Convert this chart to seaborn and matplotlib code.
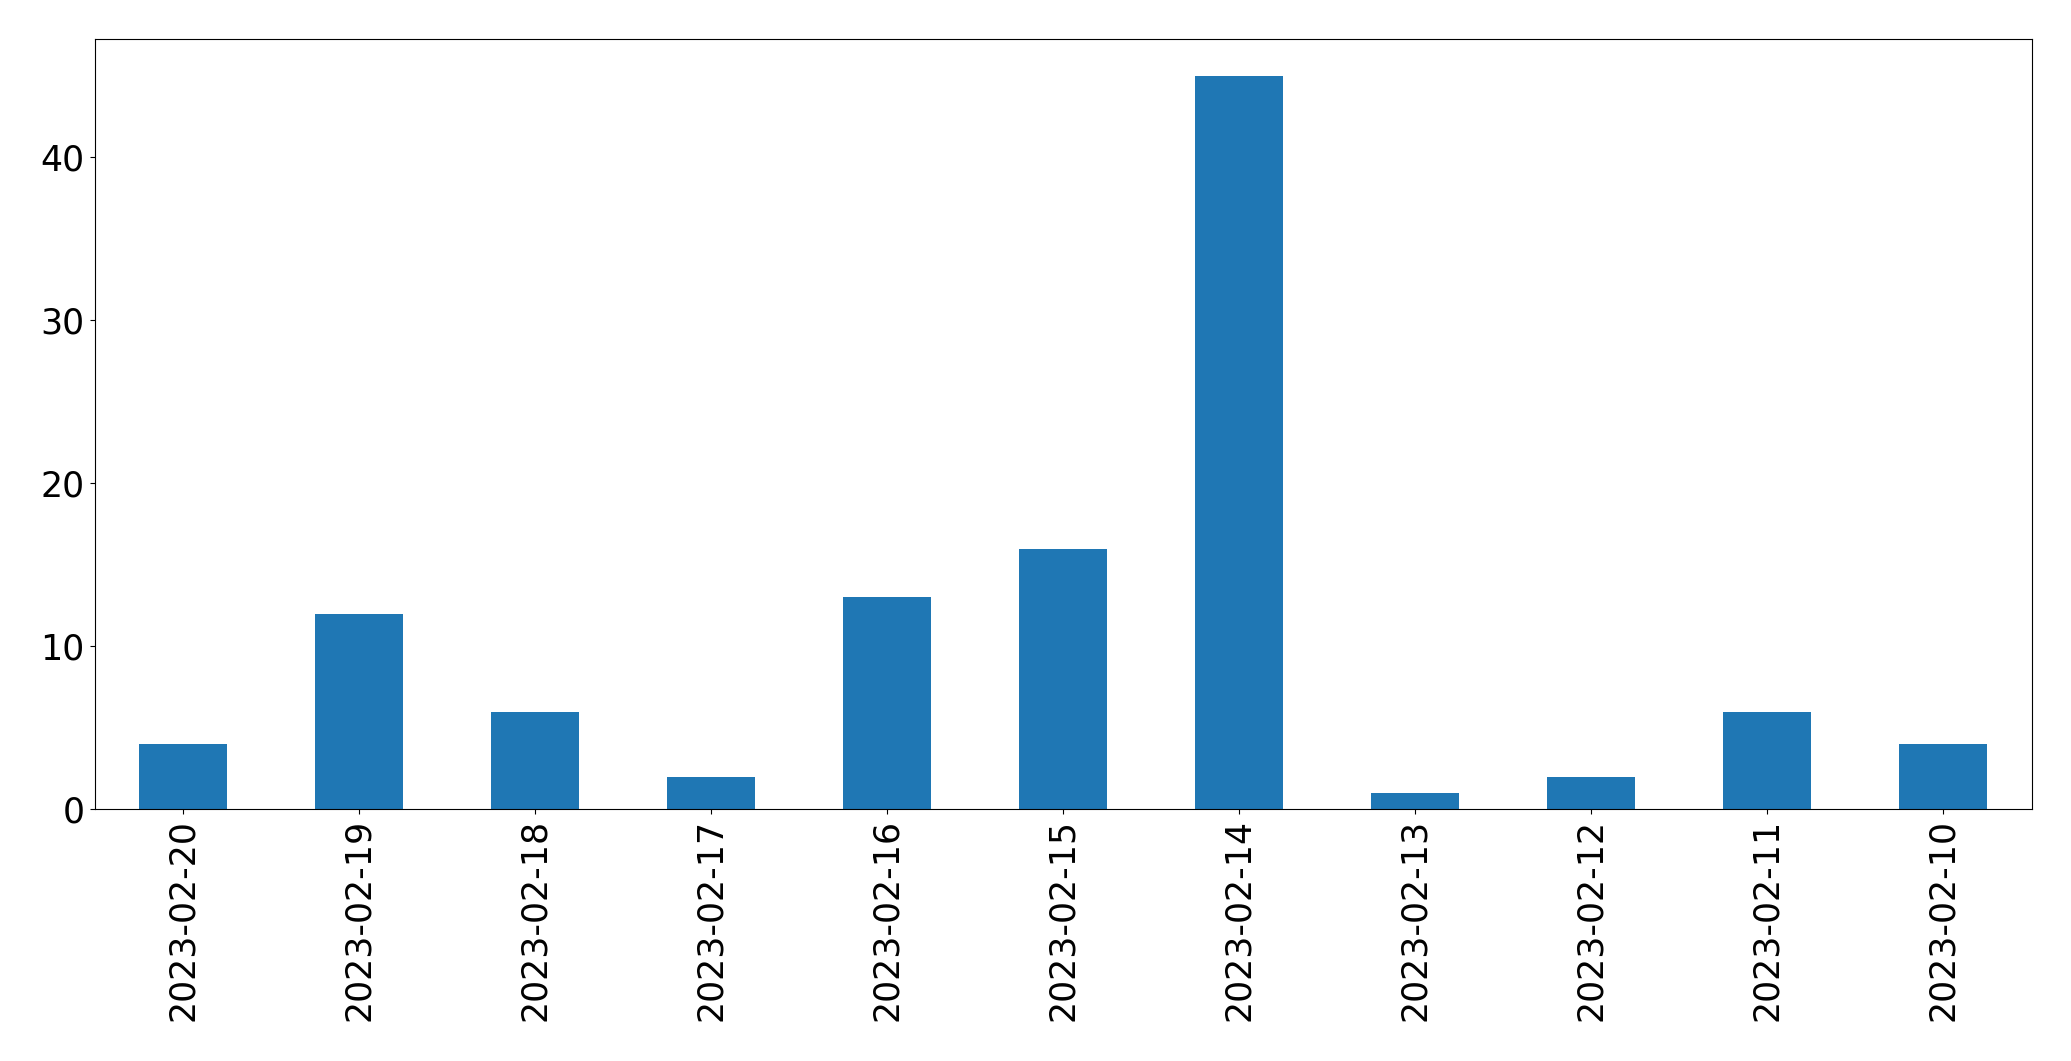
import matplotlib
matplotlib.use("Agg")
import matplotlib.pyplot as plt
import seaborn as sns

# 日期与计数
dates = ['2023-02-20', '2023-02-19', '2023-02-18', '2023-02-17', '2023-02-16',
         '2023-02-15', '2023-02-14', '2023-02-13', '2023-02-12', '2023-02-11',
         '2023-02-10']
counts = [4, 12, 6, 2, 13, 16, 45, 1, 2, 6, 4]

plt.rcParams['font.family'] = ['DejaVu Sans']

fig = plt.figure(figsize=(20.71, 10.61), dpi=100)
ax = fig.add_axes([94.5 / 2071, 1 - 809.3 / 1061, 1937 / 2071, 770 / 1061])

sns.barplot(x=dates, y=counts, order=dates, color='#1f77b4', saturation=1,
            width=0.5, linewidth=0, ax=ax)

ax.set_ylim(0, 47.25)
ax.set_xlim(-0.5, len(dates) - 0.5)
ax.set_yticks([0, 10, 20, 30, 40])
ax.tick_params(axis='both', labelsize=25)
ax.tick_params(axis='x', labelrotation=90)
ax.set_xlabel('')
ax.set_ylabel('')

fig.savefig('out.png', dpi=100)
